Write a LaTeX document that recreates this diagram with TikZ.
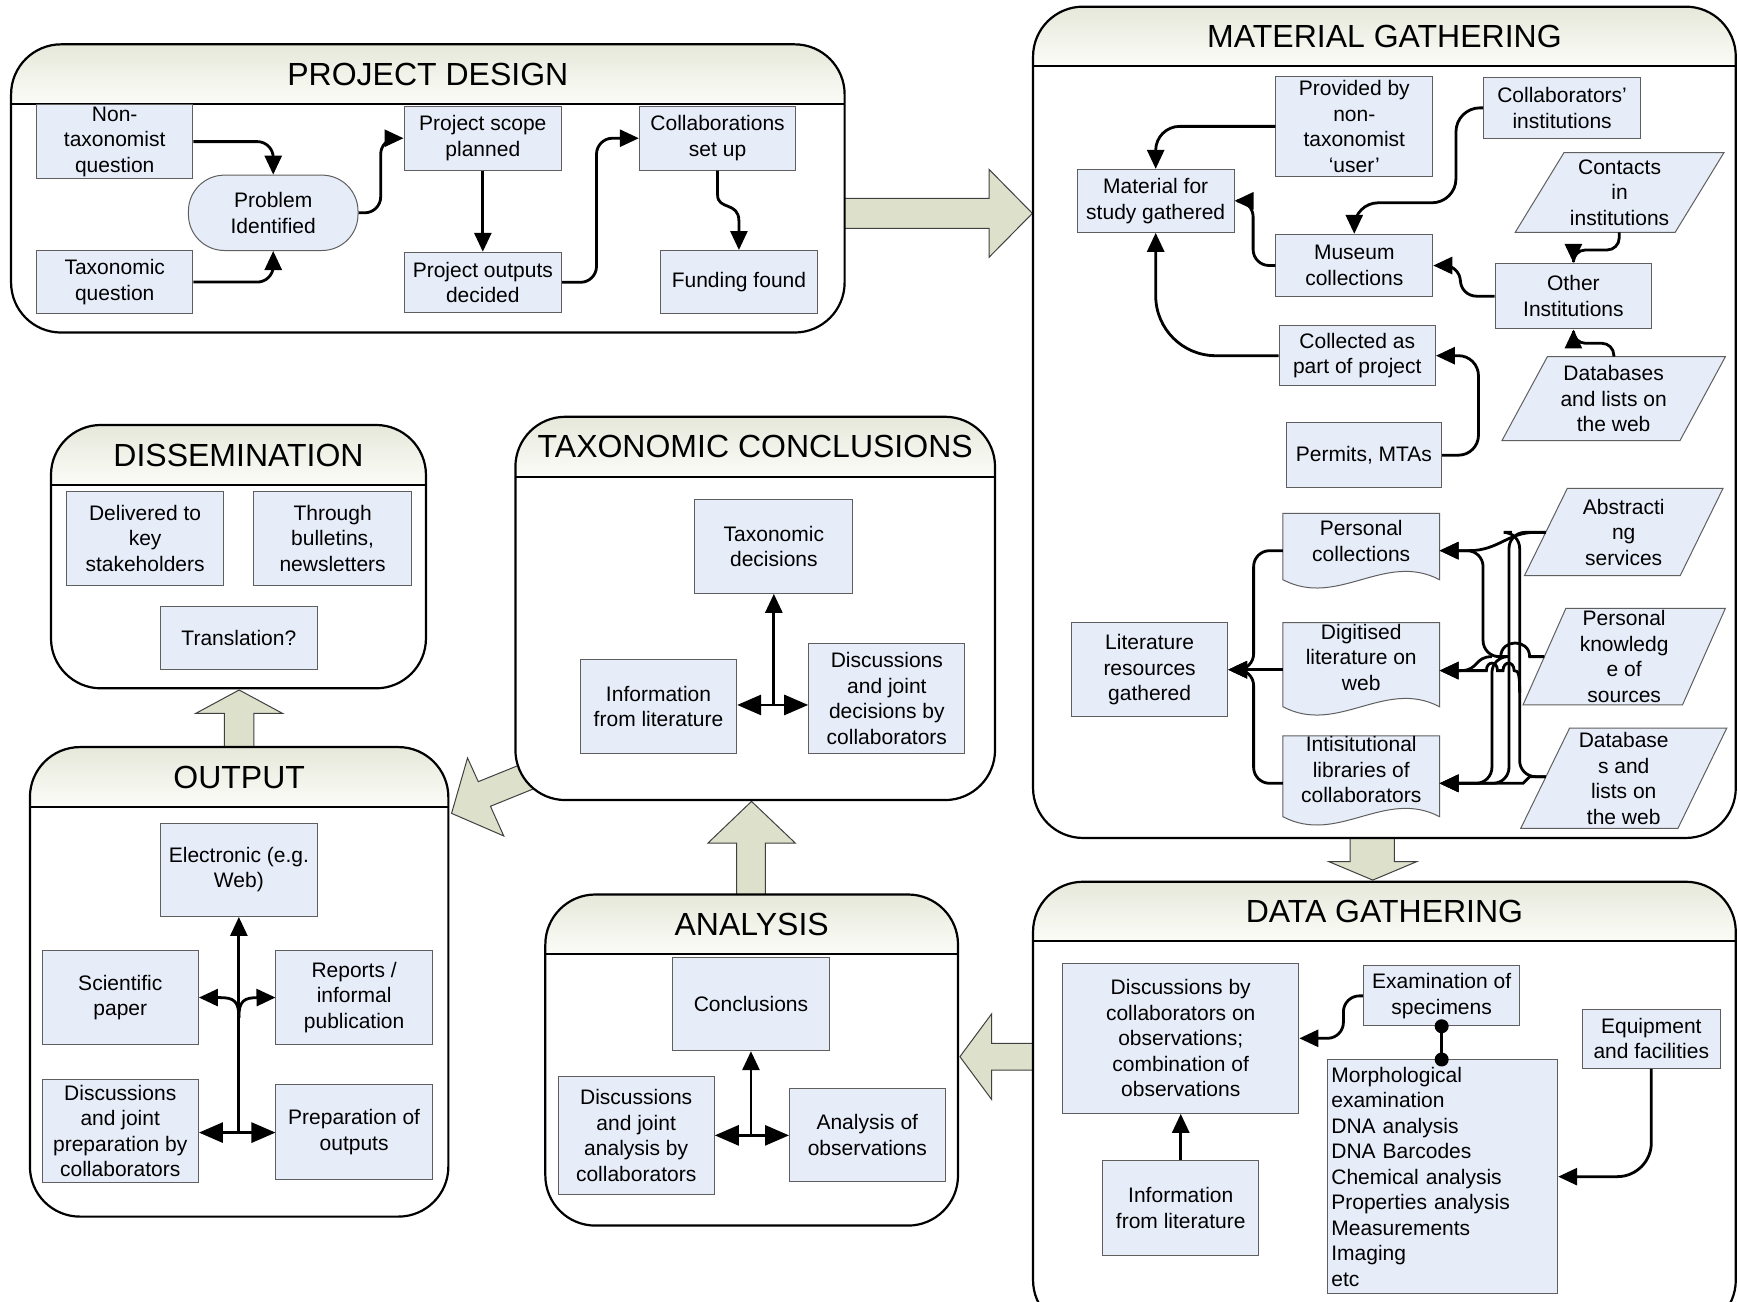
\documentclass[tikz,border=0pt]{standalone}
\usepackage{fontspec}
\setmainfont{Liberation Sans}
\usetikzlibrary{arrows.meta,calc}
\definecolor{boxfill}{RGB}{230,236,248}
\definecolor{boxline}{RGB}{95,95,95}
\definecolor{hdrtop}{RGB}{230,232,218}
\definecolor{hdrbot}{RGB}{252,252,248}
\definecolor{fatfill}{RGB}{221,224,203}
\newcommand\boxfont{\fontsize{10.5}{12.75}\selectfont}
\newcommand\titlefont{\fontsize{16}{19}\selectfont}
\tikzset{
 box/.style={fill=boxfill,draw=boxline,line width=0.5pt,align=center,inner sep=1pt,font=\boxfont},
 txt/.style={align=center,inner sep=0pt,font=\boxfont},
 ln/.style={line width=1.4pt,-{Triangle[length=9.5pt,width=8.5pt]}},
 pl/.style={line width=1.4pt},
 dbl/.style={line width=1.4pt,{Triangle[length=12pt,width=10pt]}-{Triangle[length=12pt,width=10pt]}},
 fat/.style={fill=fatfill,draw=black!75,line width=0.5pt},
 ttl/.style={font=\titlefont,inner sep=0pt}
}
\newcommand\panelbox[7]{%
 \fill[white,rounded corners=25pt] (#2,#3) rectangle (#4,#5);
 \begin{scope}
  \clip[rounded corners=25pt] (#2,#3) rectangle (#4,#5);
  \shade[top color=hdrtop,bottom color=hdrbot] (#2,#3) rectangle (#4,#6);
 \end{scope}
 \draw[line width=1.1pt,rounded corners=25pt] (#2,#3) rectangle (#4,#5);
 \draw[line width=1.1pt] (#2,#6) -- (#4,#6);
 \node[ttl] (#1) at ({(#2+#4)/2},{(#3+#6)/2}) {#7};}
\newcommand\bx[7][]{\node[box,minimum width={(#5-#3)*0.5542pt},minimum height={(#6-#4)*0.5542pt},#1] (#2) at ({(#3+#5)/2},{(#4+#6)/2}) {#7};}
\newcommand\para[7]{%
 \filldraw[fill=boxfill,draw=boxline,line width=0.5pt] (#2,#5) -- ({#4-#6},#5) -- (#4,#3) -- ({#2+#6},#3) -- cycle;
 \node[txt] (#1) at ({(#2+#4)/2},{(#3+#5)/2}) {#7};}
\newcommand\docu[7]{%
 \filldraw[fill=boxfill,draw=boxline,line width=0.5pt] (#2,#3) -- (#4,#3) -- (#4,#5) .. controls ({#4-0.35*(#4-#2)},{#5-26}) and ({#2+0.35*(#4-#2)},{#5+26}) .. (#2,#5) -- cycle;
 \node[txt] (#1) at ({(#2+#4)/2},#6) {#7};}
\begin{document}
\begin{tikzpicture}[x=0.5542pt,y=-0.5542pt]
\useasboundingbox (0,0) rectangle (1568,1174);
\clip (0,0) rectangle (1568,1174);
% ---------- big block arrows ----------
\draw[fat] (755,179) -- (892.3,179) -- (892.3,152.8) -- (931.4,192.5) -- (892.3,232.1) -- (892.3,206) -- (755,206) -- cycle;
\draw[fat] (1218,750) -- (1218,777.4) -- (1199,777.4) -- (1238.5,794) -- (1278,777.4) -- (1258,777.4) -- (1258,750) -- cycle;
\draw[fat] (940,941.3) -- (894.7,941.3) -- (894.7,914.6) -- (866,953.3) -- (894.7,992) -- (894.7,965.4) -- (940,965.4) -- cycle;
\draw[fat] (664.6,815) -- (664.6,760.6) -- (638.7,760.6) -- (678,723) -- (717.5,760.6) -- (690.5,760.6) -- (690.5,815) -- cycle;
\draw[fat] (202.5,680) -- (202.5,643.6) -- (176.6,643.6) -- (215.75,622.5) -- (254.9,643.6) -- (229,643.6) -- (229,680) -- cycle;
\draw[fat] (495,679.5) -- (431.5,705.2) -- (421.8,683.8) -- (407.4,733.8) -- (454.5,754.2) -- (442.5,727.4) -- (506,701.7) -- cycle;
% ---------- panels ----------
\panelbox{pdT}{10}{40}{762}{300}{94}{PROJECT DESIGN}
\panelbox{mgT}{932}{6}{1566}{756}{59.5}{MATERIAL GATHERING}
\panelbox{dsT}{46}{383.4}{384.3}{621}{437.6}{DISSEMINATION}
\panelbox{tcT}{465}{376}{897.7}{721.8}{430}{TAXONOMIC CONCLUSIONS}
\panelbox{ouT}{27}{674}{404.5}{1097.6}{728}{OUTPUT}
\panelbox{anT}{492}{807}{864.3}{1105.7}{860.7}{ANALYSIS}
\panelbox{dgT}{932}{795.5}{1566}{1200}{849}{DATA GATHERING}
% ---------- PROJECT DESIGN ----------
\bx{nt}{33}{96}{174}{159.5}{Non-\\taxonomist\\question}
\bx{tq}{33}{226}{174}{283}{Taxonomic\\question}
\bx[rounded corners=18pt]{prob}{170}{158}{323}{226}{Problem\\Identified}
\bx{scope}{364.5}{96}{506.7}{153.4}{Project scope\\planned}
\bx{outd}{364.5}{227.6}{506.7}{281.8}{Project outputs\\decided}
\bx{collab}{576.8}{96}{718}{153.4}{Collaborations\\set up}
\bx{fund}{595.8}{226}{737.5}{283}{Funding found}
\draw[ln,rounded corners=8pt] (nt.east) -| (prob.north);
\draw[ln,rounded corners=8pt] (tq.east) -| (prob.south);
\draw[ln,rounded corners=8pt] (prob.east) -- ++(20,0) |- (scope.west);
\draw[ln] (scope.south) -- (outd.north);
\draw[ln,rounded corners=8pt] (outd.east) -- ++(31,0) |- (collab.west);
\draw[ln] (collab.south) -- ++(0,22) .. controls ++(0,14) and ($(fund.north)+(0,-44)$) .. ($(fund.north)+(0,-26)$) -- (fund.north);
% ---------- MATERIAL GATHERING ----------
\bx{prov}{1151}{68.6}{1292.6}{159.4}{Provided by\\non-\\taxonomist\\‘user’}
\bx{colinst}{1338.6}{69.8}{1480}{124.8}{Collaborators’\\institutions}
\bx{matl}{972}{152.8}{1113.3}{209.6}{Material for\\study gathered}
\para{contacts}{1367}{137.7}{1555.3}{209.6}{44}{Contacts\\in\\institutions}
\bx{museum}{1151}{211.4}{1292.6}{267.7}{Museum\\collections}
\bx{other}{1348.8}{237.6}{1490.2}{296.8}{Other\\Institutions}
\bx{collected}{1154}{293.8}{1295}{348}{Collected as\\part of project}
\para{dbweb}{1355}{321.8}{1556.6}{397.6}{41}{Databases\\and lists on\\the web}
\bx{permits}{1160.3}{381.3}{1300.7}{440}{Permits, MTAs}
\coordinate (contB) at (1460.8,209.6);
\coordinate (dbwT) at (1456,321.8);
\draw[ln,rounded corners=12pt] (prov.west) -| (matl.north);
\draw[ln,rounded corners=12pt] (colinst.west) -- ++(-24.6,0) |- ($(museum.north)+(0,-28)$) -- (museum.north);
\draw[ln,rounded corners=8pt] (museum.west) -- ++(-20,0) |- (matl.east);
\draw[ln,rounded corners=8pt] (other.west) -- ++(-30.8,0) |- (museum.east);
\draw[ln,rounded corners=6pt] (contB) -- ++(0,15.9) -| (other.north);
\draw[ln,rounded corners=6pt] (dbwT) -- ++(0,-12.1) -| (other.south);
\draw[ln,rounded corners=30pt] (collected.west) -| (matl.south);
\draw[ln,rounded corners=10pt] (permits.east) -- ++(32.7,0) |- (collected.east);
% literature part
\docu{pcoll}{1157.4}{463.1}{1298.7}{523}{488}{Personal\\collections}
\docu{digit}{1157.4}{561.8}{1298.7}{637.6}{593}{Digitised\\literature on\\web}
\docu{instlib}{1157.4}{664}{1298.7}{736.8}{694.5}{Intisitutional\\libraries of\\collaborators}
\bx{litres}{966.7}{561.8}{1107.6}{646.6}{Literature\\resources\\gathered}
\para{abs}{1375.3}{440.6}{1554.5}{519.4}{38.7}{Abstracti\\ng\\services}
\para{pk}{1374}{548.8}{1556.6}{636}{38.7}{Personal\\knowledg\\e of\\sources}
\para{dbs}{1372}{657}{1557.8}{747.3}{44}{Database\\s and\\lists on\\the web}
\coordinate (pcW) at (1157.4,496.8);
\coordinate (dgW) at (1157.4,604.2);
\coordinate (ilW) at (1157.4,706.7);
\draw[ln,rounded corners=8pt] (pcW) -- (1131,496.8) |- (litres.east);
\draw[ln] (dgW) -- (litres.east);
\draw[ln,rounded corners=8pt] (ilW) -- (1131,706.7) |- (litres.east);
\coordinate (absP) at (1394.7,480.3);
\coordinate (pkP) at (1393.3,592.4);
\coordinate (dbP) at (1394.7,700.7);
\coordinate (pcT) at (1298.7,496.8);
\coordinate (dgT) at (1298.7,605);
\coordinate (ilT) at (1298.7,706.7);
\draw[ln,rounded corners=8pt] (absP) -- (1361.4,480.3) -- (1361.4,706.7) -- (ilT);
\draw[ln] (1385,480.3) .. controls (1360,480.3) and (1352,496.8) .. (1325,496.8) -- (pcT);
\draw[pl,rounded corners=8pt] (dbP) -- (1371,700.7) -- (1371,480.3) -- (1364,480.3);
\draw[ln] (dbP) -- (1380,700.7) -- (1374,706.7) -- (ilT);
\draw[pl] (pkP) -- (1380,592.4) .. controls (1380,576) and (1354,576) .. (1354,592.4);
\draw[ln,rounded corners=8pt] (1354,592.4) -- (1338,592.4) -- (1338,496.8) -- (pcT);
\draw[ln,rounded corners=8pt] (1354,592.4) -- (1346,592.4) -- (1346,706.7) -- (ilT);
\draw[ln] (1346,592.4) .. controls (1330,592.4) and (1334,605) .. (1318,605) -- (dgT);
\draw[ln] (1371,625) .. controls (1371,608) and (1370,605) .. (1366,605) .. controls (1366,596) and (1356,596) .. (1356,605) -- (1351,605) .. controls (1351,596) and (1341,596) .. (1341,605) -- (dgT);
% ---------- DISSEMINATION ----------
\bx{deliv}{60.4}{443}{201.4}{527.8}{Delivered to\\key\\stakeholders}
\bx{bull}{229}{443}{371.2}{527.8}{Through\\bulletins,\\newsletters}
\bx{transl}{145}{547.3}{286}{603.9}{Translation?}
% ---------- TAXONOMIC CONCLUSIONS ----------
\bx{taxdec}{627}{450.5}{769.3}{535.3}{Taxonomic\\decisions}
\bx{infolit}{523.6}{594.8}{664.6}{679.7}{Information\\from literature}
\bx{discjd}{729.6}{580.4}{870.6}{679.7}{Discussions\\and joint\\decisions by\\collaborators}
\coordinate (tcj) at (698.15,636);
\draw[ln] (tcj) -- (taxdec.south);
\draw[dbl] (infolit.east |- tcj) -- (discjd.west |- tcj);
% ---------- OUTPUT ----------
\bx{elec}{145}{742.5}{286}{826.8}{Electronic (e.g.\\Web)}
\bx{sci}{38}{857.5}{179}{942.4}{Scientific\\paper}
\bx{rep}{249}{857.5}{390}{942.4}{Reports /\\informal\\publication}
\bx{discprep}{38}{974.3}{179}{1066.6}{Discussions\\and joint\\preparation by\\collaborators}
\bx{prep}{249}{978.5}{390}{1064}{Preparation of\\outputs}
\coordinate (ouj) at (215.5,1021.8);
\draw[ln] (ouj) -- (elec.south);
\draw[dbl] (discprep.east |- ouj) -- (prep.west |- ouj);
\draw[ln] (215.5,918) .. controls (215.5,903) and (211,900) .. (198,900) -- (sci.east);
\draw[ln] (215.5,918) .. controls (215.5,903) and (220,900) .. (233,900) -- (rep.west);
% ---------- ANALYSIS ----------
\bx{concl}{607}{863.4}{748}{947.9}{Conclusions}
\bx{discan}{503.5}{971}{644.4}{1077.6}{Discussions\\and joint\\analysis by\\collaborators}
\bx{anobs}{712.3}{981.6}{852.6}{1066.3}{Analysis of\\observations}
\coordinate (anj) at (677.5,1024.3);
\draw[ln] (anj) -- (concl.south);
\draw[dbl] (discan.east |- anj) -- (anobs.west |- anj);
% ---------- DATA GATHERING ----------
\bx{discobs}{958.7}{869.1}{1171.8}{1004.4}{Discussions by\\collaborators on\\observations;\\combination of\\observations}
\bx{infolit2}{994.8}{1047.2}{1135.7}{1132.3}{Information\\from literature}
\bx{exam}{1230}{871.5}{1371.3}{925.4}{Examination of\\specimens}
\bx{equip}{1427.8}{910.3}{1551.8}{963.8}{Equipment\\and facilities}
\bx[align=left,text width=111pt,inner xsep=2.1pt]{morph}{1197.2}{956.3}{1405.3}{1166.8}{Morphological\\examination\\DNA analysis\\DNA Barcodes\\Chemical analysis\\Properties analysis\\Measurements\\Imaging\\etc}
\draw[ln,rounded corners=8pt] (exam.west) -- (1212,898.45) |- (discobs.east);
\draw[ln] (infolit2.north) -- (discobs.south);
\draw[pl] (exam.south) -- (exam.south |- morph.north);
\fill (exam.south) circle[radius=3.5pt];
\fill (exam.south |- morph.north) circle[radius=3.5pt];
\draw[ln,rounded corners=17pt] (equip.south) |- (morph.east);
\end{tikzpicture}
\end{document}
